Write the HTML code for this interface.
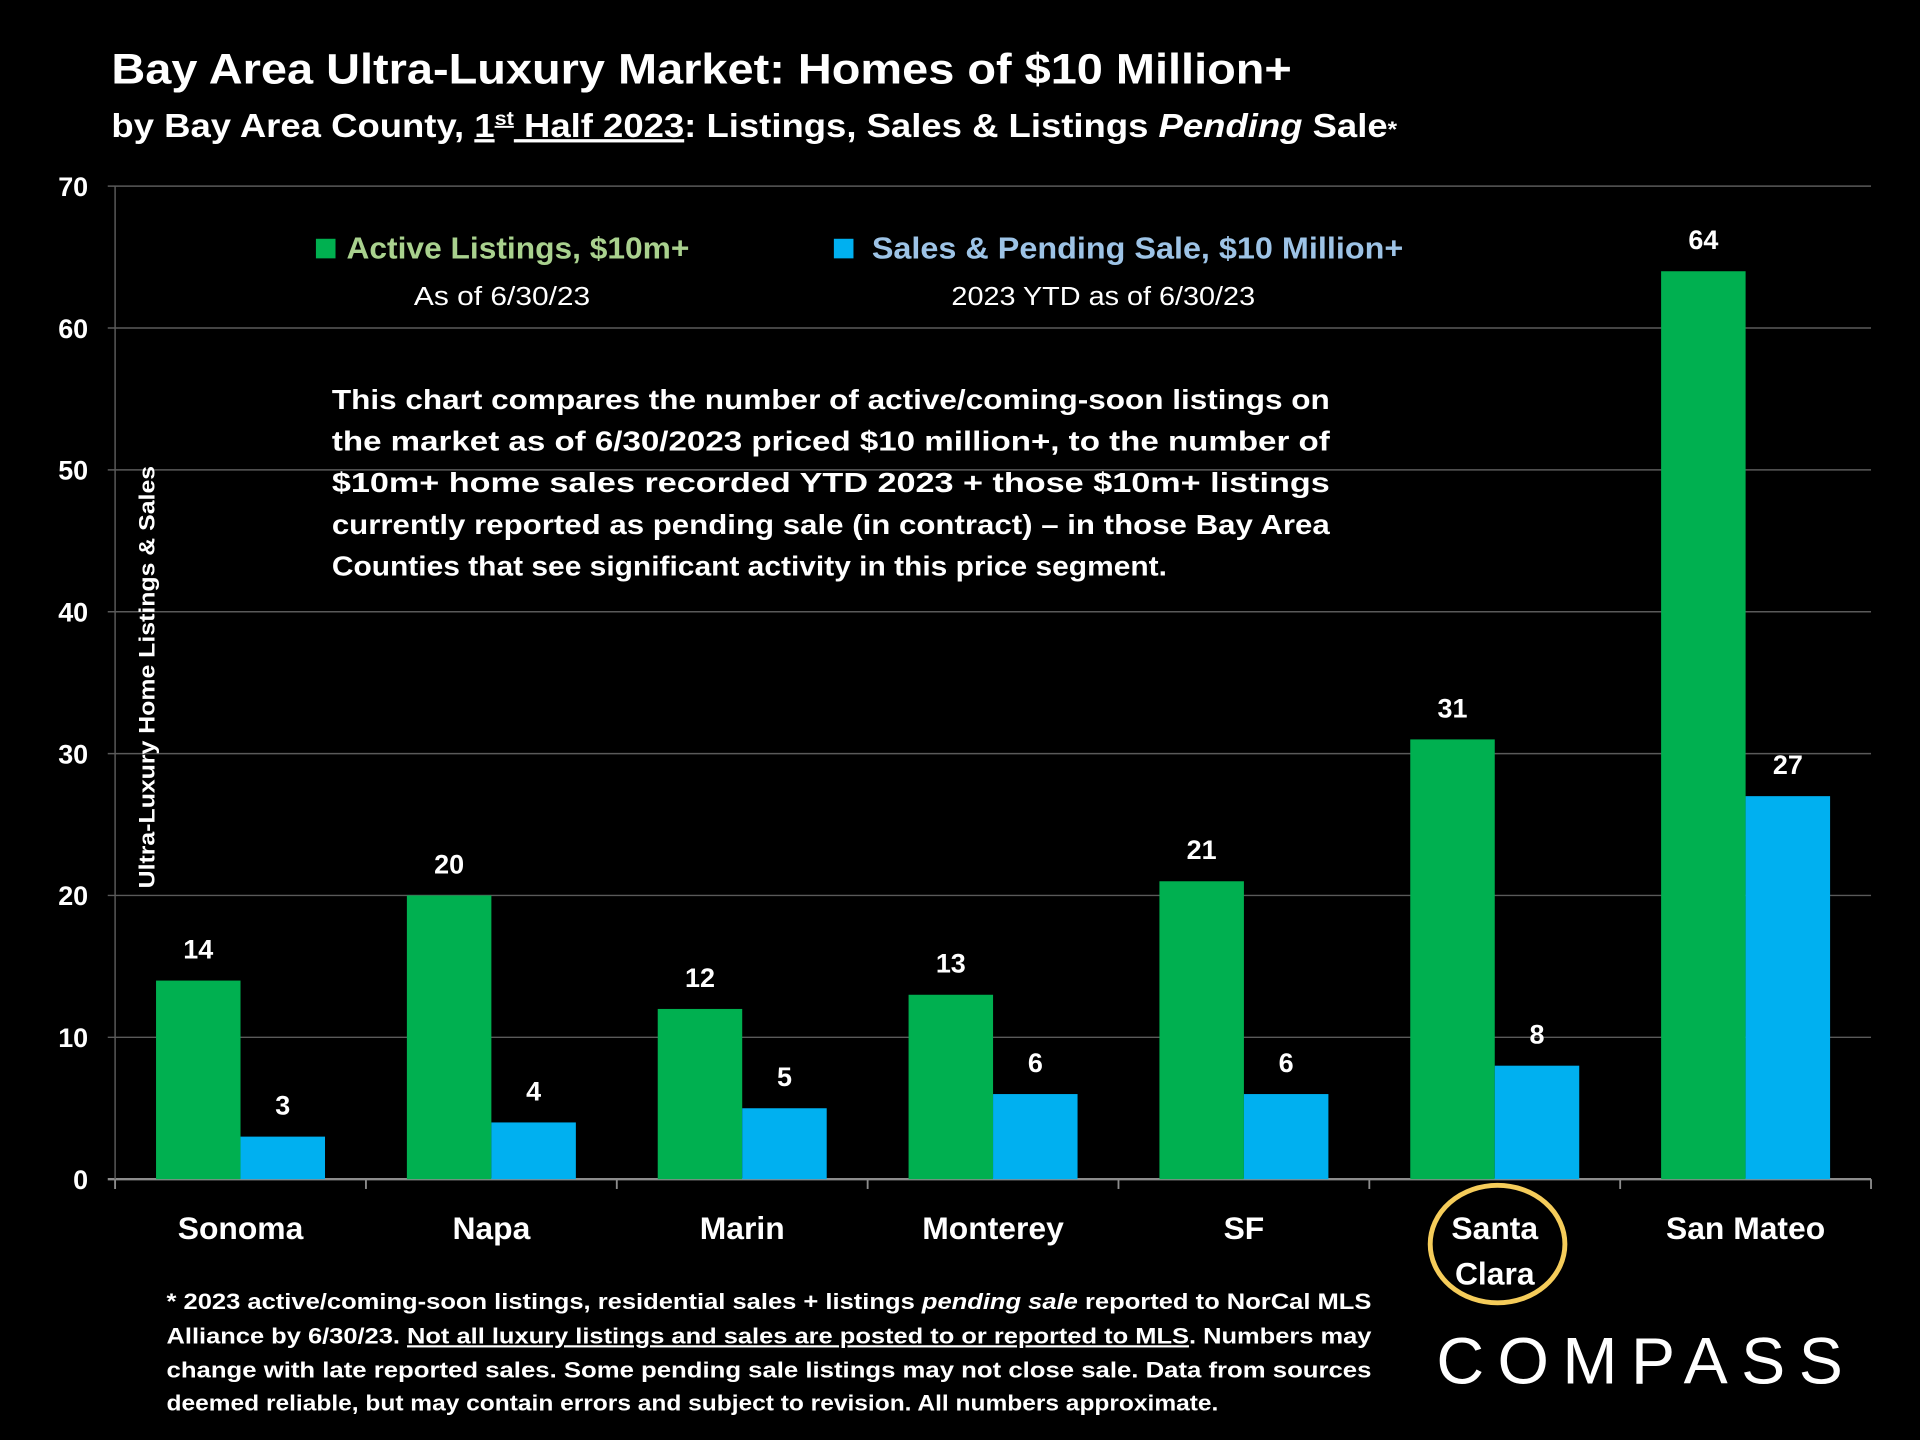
<!DOCTYPE html>
<html><head><meta charset="utf-8"><style>
html,body{margin:0;padding:0;background:#000;}
svg{display:block;font-family:"Liberation Sans",sans-serif;}
</style></head><body>
<svg id="chart" width="1920" height="1440" viewBox="0 0 1568 1176" xmlns="http://www.w3.org/2000/svg">
<rect width="1568" height="1176" fill="#000"/>
<text x="91" y="68" fill="#fff" font-size="35" font-weight="bold" textLength="964" lengthAdjust="spacingAndGlyphs">Bay Area Ultra-Luxury Market: Homes of $10 Million+</text>
<text x="91" y="112" fill="#fff" font-size="27" font-weight="bold" textLength="1050" lengthAdjust="spacingAndGlyphs">by Bay Area County, <tspan text-decoration="underline">1<tspan font-size="16" dy="-10">st</tspan><tspan dy="10"> Half 2023</tspan></tspan>:  Listings, Sales &amp; Listings <tspan font-style="italic">Pending</tspan> Sale<tspan font-size="18">*</tspan></text>
<g id="grid"></g>
<g id="bars"></g>
<g>
<rect x="258" y="195" width="16" height="16" fill="#00b050"/>
<text x="283" y="211" fill="#a9d18e" font-size="25" font-weight="bold" textLength="280" lengthAdjust="spacingAndGlyphs">Active Listings, $10m+</text>
<text x="410" y="249" fill="#fff" font-size="21" text-anchor="middle" textLength="144" lengthAdjust="spacingAndGlyphs">As of 6/30/23</text>
<rect x="681" y="195" width="16" height="16" fill="#00b0f0"/>
<text x="712" y="211" fill="#9dc3e6" font-size="25" font-weight="bold" textLength="434" lengthAdjust="spacingAndGlyphs">Sales &amp; Pending Sale, $10 Million+</text>
<text x="901" y="249" fill="#fff" font-size="21" text-anchor="middle" textLength="248" lengthAdjust="spacingAndGlyphs">2023 YTD as of 6/30/23</text>
</g>
<g fill="#fff" font-size="23" font-weight="bold">
<text x="271" y="334" textLength="815" lengthAdjust="spacingAndGlyphs">This chart compares the number of active/coming-soon listings on</text>
<text x="271" y="368" textLength="815" lengthAdjust="spacingAndGlyphs">the market as of 6/30/2023 priced $10 million+, to the number of</text>
<text x="271" y="402" textLength="815" lengthAdjust="spacingAndGlyphs">$10m+ home sales recorded YTD 2023 + those $10m+ listings</text>
<text x="271" y="436" textLength="815" lengthAdjust="spacingAndGlyphs">currently reported as pending sale (in contract) – in those Bay Area</text>
<text x="271" y="470" textLength="682" lengthAdjust="spacingAndGlyphs">Counties that see significant activity in this price segment.</text>
</g>
<text transform="translate(126,553) rotate(-90)" fill="#fff" font-size="18" font-weight="bold" text-anchor="middle" textLength="345" lengthAdjust="spacingAndGlyphs">Ultra-Luxury Home Listings &amp; Sales</text>
<ellipse cx="1223" cy="1016" rx="55" ry="48" fill="none" stroke="#f5cc5a" stroke-width="4"/>
<g fill="#fff" font-size="18" font-weight="bold">
<text x="136" y="1069" textLength="984" lengthAdjust="spacingAndGlyphs">* 2023 active/coming-soon listings, residential sales + listings <tspan font-style="italic">pending sale</tspan> reported to NorCal MLS</text>
<text x="136" y="1097" textLength="984" lengthAdjust="spacingAndGlyphs">Alliance by 6/30/23. <tspan text-decoration="underline">Not all luxury listings and sales are posted to or reported to MLS</tspan>. Numbers may</text>
<text x="136" y="1125" textLength="984" lengthAdjust="spacingAndGlyphs">change with late reported sales. Some pending sale listings may not close sale. Data from sources</text>
<text x="136" y="1152" textLength="859" lengthAdjust="spacingAndGlyphs">deemed reliable, but may contain errors and subject to revision. All numbers approximate.</text>
</g>
<text x="1173" y="1130" fill="#fff" font-size="54" textLength="332" lengthAdjust="spacing">COMPASS</text>
<script>
const categories=["Sonoma","Napa","Marin","Monterey","SF","Santa Clara","San Mateo"];
const activeListings=[14,20,12,13,21,31,64];
const salesPending=[3,4,5,6,6,8,27];
const yTicks=[0,10,20,30,40,50,60,70];
const NS="http://www.w3.org/2000/svg";
const L=94,R=1528,Y0=963,Y70=152,yMax=70;
const yS=v=>Y0-(v/yMax)*(Y0-Y70);
const bw=(R-L)/categories.length;
const xC=i=>L+bw*(i+0.5);
function mk(t,a,p){const e=document.createElementNS(NS,t);for(const k in a)e.setAttribute(k,a[k]);p.appendChild(e);return e;}
const grid=document.getElementById('grid'),bars=document.getElementById('bars');
yTicks.forEach(v=>{
 const ln=mk('line',{x1:L-6,x2:R,y1:yS(v),y2:yS(v),stroke:v===0?'#8c8c8c':'#5a5a5a','stroke-width':v===0?2:1.2},grid);
 
 
 const t=mk('text',{x:72,y:yS(v)+8,fill:'#fff','font-size':22,'font-weight':'bold','text-anchor':'end'},grid);
 t.textContent=v;
 
 
});
const ax=mk('line',{x1:L,x2:L,y1:Y70,y2:Y0+8,stroke:'#5a5a5a','stroke-width':1.2},grid);


for(let i=0;i<=categories.length;i++){
 const tk=mk('line',{x1:L+bw*i,x2:L+bw*i,y1:Y0,y2:Y0+8,stroke:'#8c8c8c','stroke-width':1.5},grid);
 
 
}
const bW=69;
categories.forEach((c,i)=>{
 const cx=xC(i);
 const g=mk('rect',{x:cx-bW,y:yS(activeListings[i]),width:bW,height:Y0-yS(activeListings[i]),fill:'#00b050'},bars);
 
 
 const b=mk('rect',{x:cx,y:yS(salesPending[i]),width:bW,height:Y0-yS(salesPending[i]),fill:'#00b0f0'},bars);
 
 
 const t1=mk('text',{x:cx-bW/2,y:yS(activeListings[i])-18,fill:'#fff','font-size':22,'font-weight':'bold','text-anchor':'middle'},bars);
 t1.textContent=activeListings[i];
 
 
 const t2=mk('text',{x:cx+bW/2,y:yS(salesPending[i])-18,fill:'#fff','font-size':22,'font-weight':'bold','text-anchor':'middle'},bars);
 t2.textContent=salesPending[i];
 
 
 const parts=c==="Santa Clara"?["Santa","Clara"]:[c];
 parts.forEach((p,j)=>{
  const t=mk('text',{x:cx,y:1012+j*37,fill:'#fff','font-size':26,'font-weight':'bold','text-anchor':'middle'},bars);
  t.textContent=p;
  
  
 });
});
</script>
</svg>
</body></html>
